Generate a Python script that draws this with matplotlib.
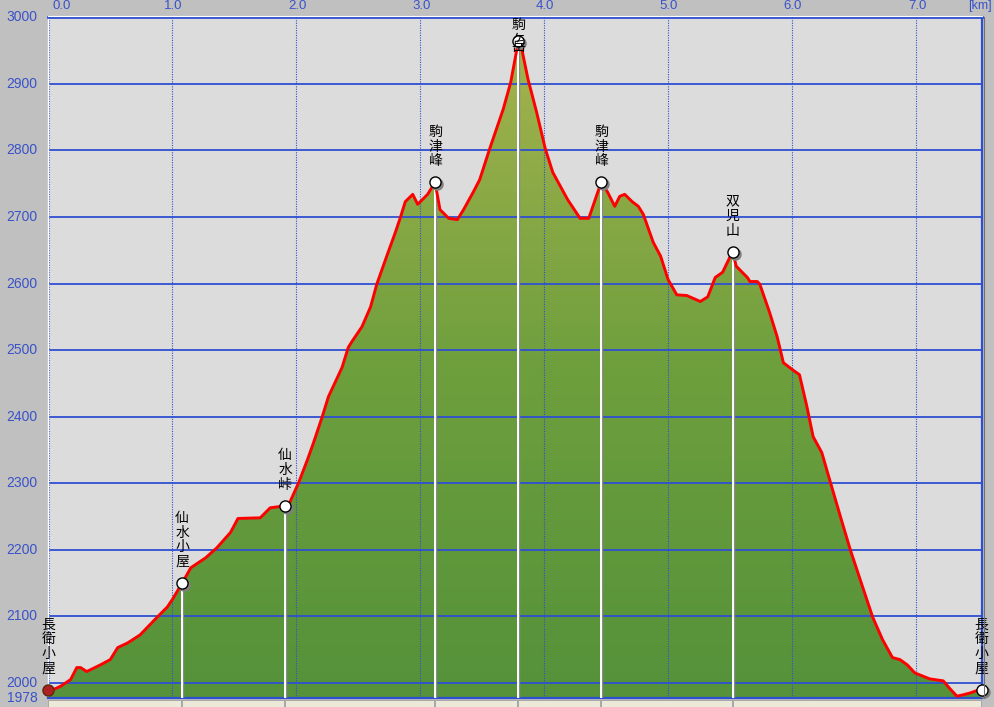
import matplotlib
matplotlib.use('Agg')
import matplotlib.pyplot as plt
import numpy as np
from matplotlib.patches import Polygon, Rectangle
from matplotlib.colors import LinearSegmentedColormap
from matplotlib import transforms

plt.rcParams['font.family'] = ['Noto Sans CJK JP', 'DejaVu Sans']

# ---- data (distance km, elevation m) ----
dist = [0.00, 0.03, 0.10, 0.18, 0.23, 0.26, 0.31, 0.42, 0.50, 0.56, 0.64, 0.74, 0.88, 0.96,
        1.00, 1.08, 1.15, 1.27, 1.36, 1.47, 1.53, 1.71, 1.79, 1.91, 1.95, 2.02, 2.09, 2.14,
        2.21, 2.26, 2.37, 2.42, 2.45, 2.53, 2.60, 2.65, 2.73, 2.80, 2.84, 2.88, 2.94, 2.98,
        3.06, 3.12, 3.16, 3.23, 3.30, 3.35, 3.43, 3.48, 3.56, 3.67, 3.73, 3.78, 3.79, 3.82,
        3.87, 3.94, 4.01, 4.07, 4.19, 4.29, 4.36, 4.46, 4.51, 4.57, 4.61, 4.65, 4.71, 4.76,
        4.80, 4.88, 4.94, 5.00, 5.07, 5.15, 5.26, 5.32, 5.38, 5.44, 5.52, 5.55, 5.64, 5.66,
        5.72, 5.74, 5.82, 5.88, 5.93, 6.00, 6.06, 6.12, 6.17, 6.24, 6.31, 6.39, 6.47, 6.55,
        6.65, 6.73, 6.81, 6.87, 6.93, 6.99, 7.11, 7.22, 7.27, 7.33, 7.38, 7.44, 7.53]
elev = [1986, 1989, 1995, 2005, 2023, 2023, 2017, 2027, 2035, 2053, 2060, 2072, 2099, 2114,
        2125, 2150, 2173, 2188, 2203, 2226, 2247, 2248, 2263, 2266, 2272, 2301, 2335, 2361,
        2400, 2430, 2474, 2504, 2513, 2535, 2565, 2599, 2641, 2677, 2699, 2723, 2734, 2719,
        2734, 2752, 2711, 2698, 2696, 2711, 2738, 2756, 2802, 2862, 2902, 2952, 2964, 2952,
        2907, 2857, 2802, 2767, 2726, 2698, 2698, 2752, 2738, 2716, 2731, 2734, 2723, 2716,
        2704, 2662, 2641, 2606, 2583, 2582, 2573, 2580, 2609, 2617, 2648, 2626, 2609, 2603,
        2603, 2599, 2556, 2520, 2481, 2471, 2463, 2415, 2370, 2346, 2301, 2250, 2200, 2155,
        2099, 2065, 2038, 2035, 2027, 2015, 2006, 2003, 1992, 1980, 1982, 1985, 1991]

wp_names = ['長衛小屋', '仙水小屋', '仙水峠', '駒津峰', '駒ヶ岳', '駒津峰', '双児山', '長衛小屋']
wp_km = [0.00, 1.08, 1.91, 3.12, 3.79, 4.46, 5.52, 7.53]
wp_elev = [1990, 2150, 2266, 2752, 2964, 2752, 2648, 1990]

y_ticks = [2000, 2100, 2200, 2300, 2400, 2500, 2600, 2700, 2800, 2900, 3000]
y_min_label = 1978
x_ticks = [0, 1, 2, 3, 4, 5, 6, 7]
x_tick_labels = ['0.0', '1.0', '2.0', '3.0', '4.0', '5.0', '6.0', '7.0']
x_unit = '[km]'

XMAX = 7.53
YMIN, YMAX = 1978, 3000

BLUE = '#2F4FD3'
LBLUE = '#3A52C8'

W, H = 994, 707
fig = plt.figure(figsize=(W / 100, H / 100), dpi=100, facecolor='#C0C0C0')
L, R, T, B = 48.3, 981.7, 17.3, 697.5
ax = fig.add_axes([L / W, 1 - B / H, (R - L) / W, (B - T) / H])
ax.set_facecolor('#DCDCDC')

# gradient fill under profile
verts = [(dist[0], YMIN)] + list(zip(dist, elev)) + [(dist[-1], YMIN)]
patch = Polygon(verts, closed=True, facecolor='none', edgecolor='none')
ax.add_patch(patch)
cmap = LinearSegmentedColormap.from_list('g', ['#55923A', '#6E9F3D', '#A4B34E'])
grad = np.linspace(0, 1, 256).reshape(-1, 1)
im = ax.imshow(grad, extent=[0, XMAX, YMIN, max(elev)], origin='lower',
               aspect='auto', cmap=cmap, zorder=1, interpolation='bilinear')
im.set_clip_path(patch)

# grid
for y in y_ticks:
    ax.axhline(y, color=BLUE, lw=1.3, zorder=2)
for x in x_ticks:
    ax.axvline(x, color=BLUE, lw=0.8, ls=(0, (1, 1.2)), zorder=2)

# waypoint vertical lines
for k, e in zip(wp_km[1:-1], wp_elev[1:-1]):
    ax.plot([k, k], [YMIN, e], color='#8A8A8A', lw=1.0, zorder=3,
            transform=transforms.offset_copy(ax.transData, fig=fig, x=1.3, y=0, units='dots'))
    ax.plot([k, k], [YMIN, e], color='white', lw=1.4, zorder=3)

# profile line
ax.plot(dist, elev, color='#FF0000', lw=2.1, zorder=4, solid_joinstyle='round')

# waypoint markers
shadow = transforms.offset_copy(ax.transData, fig=fig, x=2, y=-2, units='dots')
ax.plot(wp_km[1:], wp_elev[1:], 'o', ms=8, mfc='#808080', mec='#808080',
        transform=shadow, zorder=5, clip_on=False)
ax.plot(wp_km[1:], wp_elev[1:], 'o', ms=8, mfc='white', mec='black', mew=1.0,
        zorder=6, clip_on=False)
ax.plot(wp_km[:1], wp_elev[:1], 'o', ms=8, mfc='#B02020', mec='#5A2A10', mew=1.0,
        zorder=6, clip_on=False)

# waypoint labels (vertical text)
for name, k, e in zip(wp_names, wp_km, wp_elev):
    txt = '\n'.join(name)
    if e > 2900:
        ax.annotate(txt, xy=(k, YMAX), xytext=(0, -1), textcoords='offset pixels',
                    ha='center', va='top', fontsize=10, linespacing=0.72,
                    color='black', zorder=7, annotation_clip=False)
    else:
        ax.annotate(txt, xy=(k, e), xytext=(0, 14), textcoords='offset pixels',
                    ha='center', va='bottom', fontsize=10, linespacing=1.06,
                    color='black', zorder=7, annotation_clip=False)

ax.set_xlim(0, XMAX)
ax.set_ylim(YMIN, YMAX)
ax.set_xticks([])
ax.set_yticks([])

# spines
for s in ['top', 'right', 'bottom']:
    ax.spines[s].set_color(BLUE)
ax.spines['top'].set_linewidth(2.0)
ax.spines['right'].set_linewidth(1.6)
ax.spines['bottom'].set_linewidth(1.6)
ax.spines['left'].set_color('white')
ax.spines['left'].set_linewidth(1.0)
ax.axvline(0.008, color=BLUE, lw=0.8, ls=(0, (1, 1.2)), zorder=2)

# y tick labels
for v in y_ticks + [y_min_label]:
    ax.annotate(str(v), xy=(0, v), xycoords=('axes fraction', 'data'),
                xytext=(-11, 0), textcoords='offset pixels', ha='right', va='center',
                fontsize=10, color=LBLUE, family='Liberation Sans', annotation_clip=False)

# x tick labels at top
for x, lab in zip(x_ticks, x_tick_labels):
    dx = 13 if x == 0 else 1
    ax.annotate(lab, xy=(x, 1), xycoords=('data', 'axes fraction'),
                xytext=(dx, 11), textcoords='offset pixels', ha='center', va='center',
                fontsize=9.5, color=LBLUE, family='Liberation Sans', annotation_clip=False)
fig.text(992 / W, 1 - 6 / H, x_unit, ha='right', va='center', fontsize=9,
         color=LBLUE, family='Liberation Sans')

# top white edge line above border and right dark edge
fig.add_artist(plt.Line2D([L / W, R / W], [1 - (T - 1.6) / H] * 2, color='white', lw=0.8))
fig.add_artist(plt.Line2D([(R + 2) / W] * 2, [1 - B / H, 1 - T / H], color='#707070', lw=0.8))

# bottom status strip split at waypoints
fig.canvas.draw()
px = [ax.transData.transform((k, YMIN))[0] for k in wp_km]
for a, b in zip(px[:-1], px[1:]):
    fig.add_artist(Rectangle((a / W, 0), (b - a - 1) / W, (H - B - 2.5) / H,
                             transform=fig.transFigure, facecolor='#ECE9D8',
                             edgecolor='#A0A0A0', lw=0.6))

fig.savefig('out.png', dpi=100, facecolor=fig.get_facecolor())
